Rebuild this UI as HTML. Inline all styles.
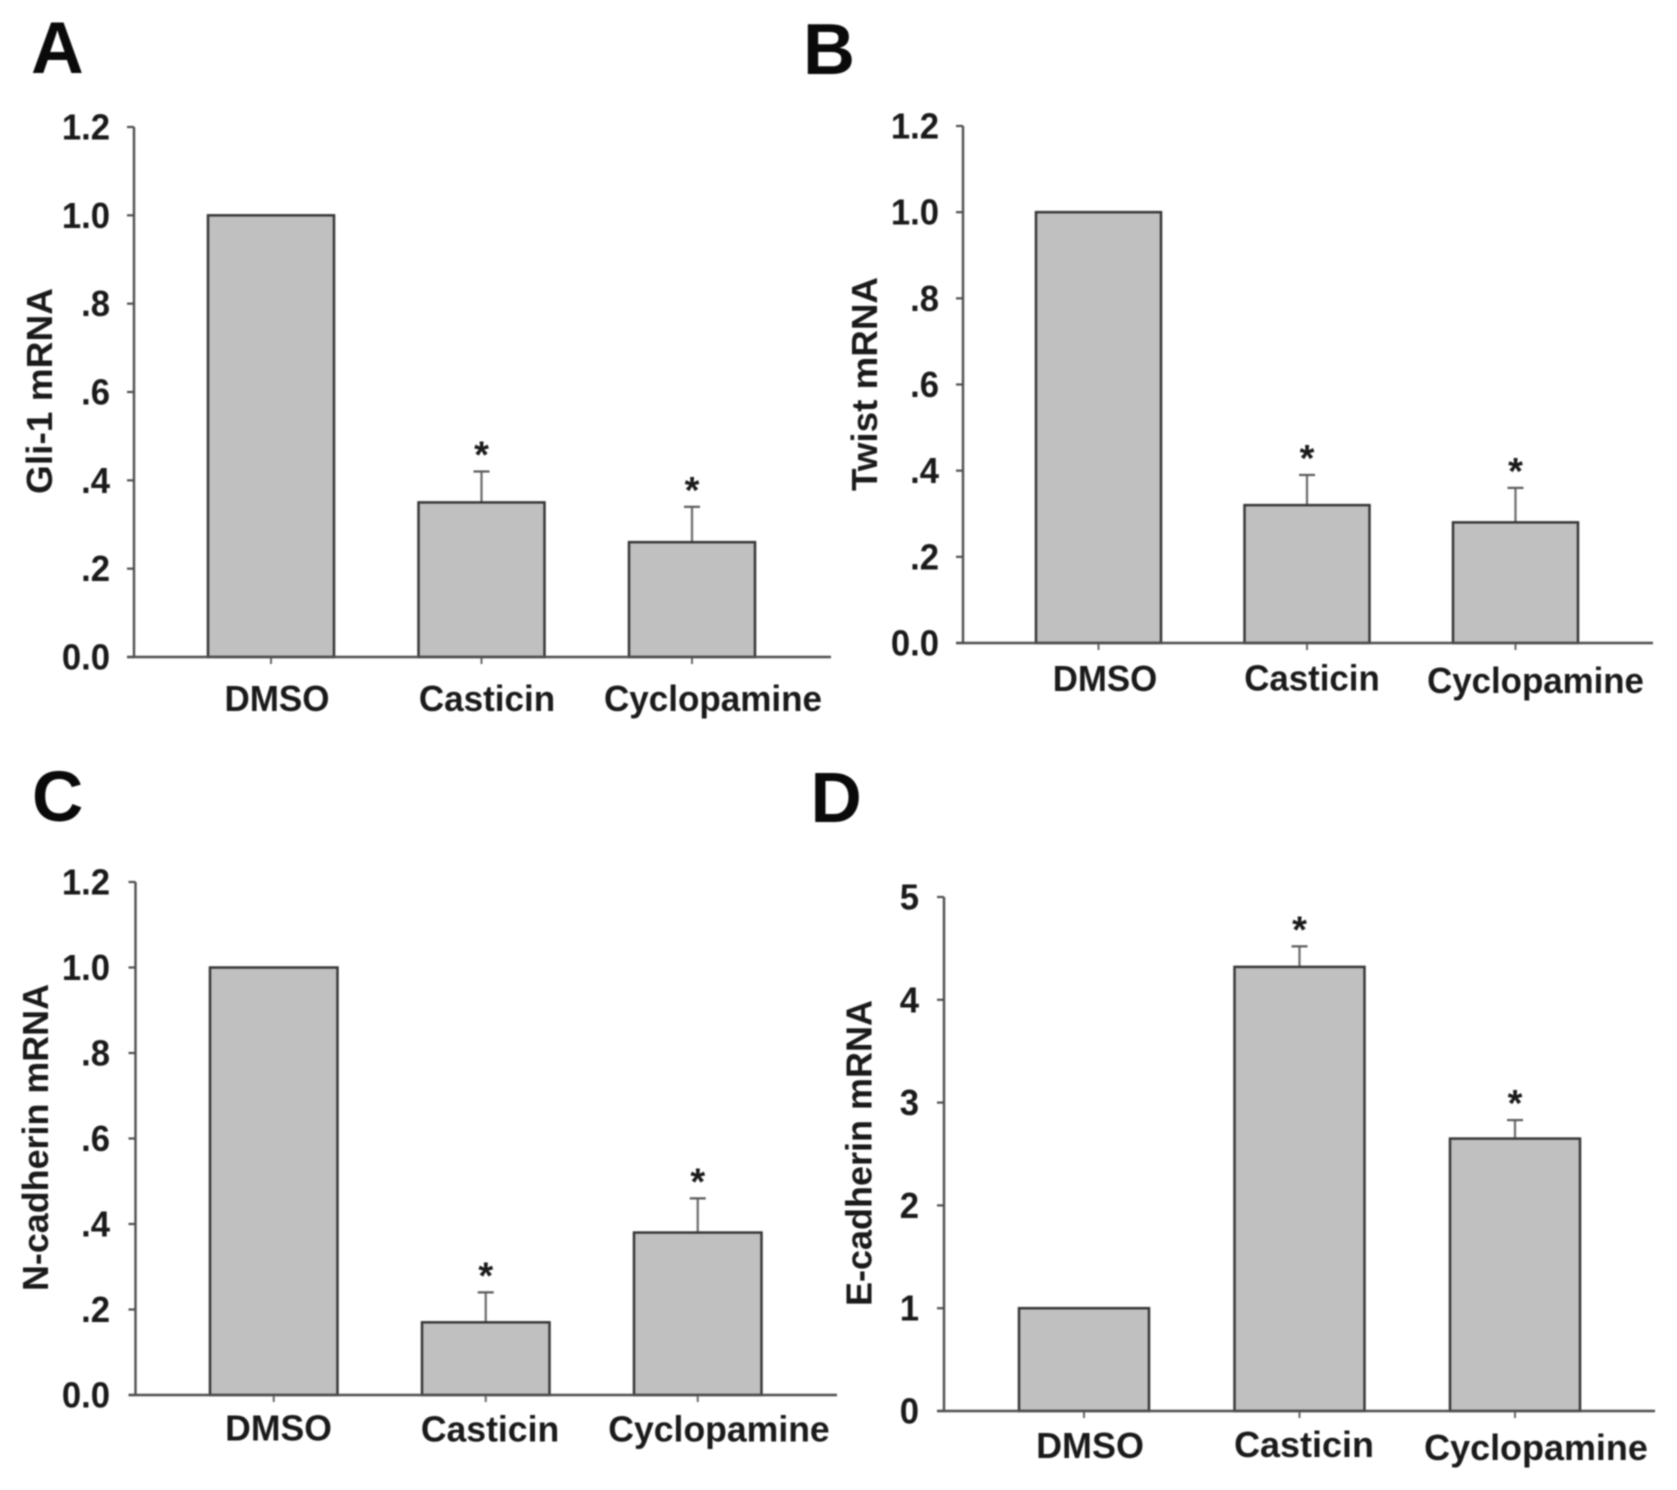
<!DOCTYPE html>
<html lang="en">
<head>
<meta charset="utf-8">
<title>mRNA expression bar charts</title>
<style>
html,body{margin:0;padding:0;background:#fff;width:1677px;height:1490px;overflow:hidden}
svg{display:block;filter:blur(0.8px)}
text{font-family:"Liberation Sans",Arial,sans-serif;font-weight:bold;fill:#1a1a1a}
</style>
</head>
<body>
<svg id="fig" xmlns="http://www.w3.org/2000/svg" width="1677" height="1490" viewBox="0 0 1677 1490"></svg>
<script>
const categories = ['DMSO', 'Casticin', 'Cyclopamine'];

const gli1Values = [1.0, 0.35, 0.26];
const gli1ErrorTops = [null, 0.42, 0.34];
const twistValues = [1.0, 0.32, 0.28];
const twistErrorTops = [null, 0.39, 0.36];
const ncadValues = [1.0, 0.17, 0.38];
const ncadErrorTops = [null, 0.24, 0.46];
const ecadValues = [1.0, 4.32, 2.65];
const ecadErrorTops = [null, 4.52, 2.83];

const ratioTicks = [0, 0.2, 0.4, 0.6, 0.8, 1.0, 1.2];
const ratioTickLabels = ['0.0', '.2', '.4', '.6', '.8', '1.0', '1.2'];
const foldTicks = [0, 1, 2, 3, 4, 5];
const foldTickLabels = ['0', '1', '2', '3', '4', '5'];

const panels = [
  {id:'a', letter:'A', lx:31, ly:73, lsize:73, title:'Gli-1 mRNA', tx:52, ty:391, tlen:206, values:gli1Values, errs:gli1ErrorTops, ticks:ratioTicks, tickLabels:ratioTickLabels,
   axisX:134, top:127, bottom:657, end:831, labelRight:110, barLeft:208, barStep:210.5, barW:126, catX:[277,487,713], catY:[711,711,711], catSx:0.96},
  {id:'b', letter:'B', lx:803, ly:74, lsize:72, title:'Twist mRNA', tx:877, ty:384, tlen:214, values:twistValues, errs:twistErrorTops, ticks:ratioTicks, tickLabels:ratioTickLabels,
   axisX:963, top:126, bottom:643, end:1653, labelRight:939, barLeft:1036, barStep:208.5, barW:125, catX:[1105,1312,1535.5], catY:[691,690.5,693], catSx:0.955},
  {id:'c', letter:'C', lx:32, ly:821, lsize:71, title:'N-cadherin mRNA', tx:48, ty:1137.5, tlen:307, values:ncadValues, errs:ncadErrorTops, ticks:ratioTicks, tickLabels:ratioTickLabels,
   axisX:135.5, top:882, bottom:1395, end:837, labelRight:110, barLeft:210, barStep:212, barW:127.5, catX:[278.5,490,719], catY:[1440.5,1441.5,1441.5], catSx:0.975},
  {id:'d', letter:'D', lx:810.5, ly:822, lsize:71, title:'E-cadherin mRNA', tx:871.5, ty:1153, tlen:306, values:ecadValues, errs:ecadErrorTops, ticks:foldTicks, tickLabels:foldTickLabels,
   axisX:944, top:897, bottom:1411, end:1655, labelRight:919, barLeft:1019, barStep:215.5, barW:130, catX:[1090,1304,1536], catY:[1458,1457,1460], catSx:0.985}
];

const svg = document.getElementById('fig');
const NS = 'http://www.w3.org/2000/svg';

function make(tag, attrs, parent) {
  const node = document.createElementNS(NS, tag);
  for (const k in attrs) node.setAttribute(k, attrs[k]);
  parent.appendChild(node);
  return node;
}

function drawPanel(p) {
  const g = make('g', {}, svg);
  
  

  const maxTick = p.ticks[p.ticks.length - 1];
  const yScale = v => p.bottom - (v / maxTick) * (p.bottom - p.top);
  const barX = i => p.barLeft + p.barStep * i;
  const barCenter = i => barX(i) + p.barW / 2;

  const letter = make('text', {x:p.lx, y:p.ly, 'font-size':p.lsize, style:'fill:#0a0a0a'}, g);
  letter.textContent = p.letter;
  
  

  const title = make('text', {transform:'translate(' + p.tx + ',' + p.ty + ') rotate(-90)', 'text-anchor':'middle', 'font-size':36.5, textLength:p.tlen, lengthAdjust:'spacingAndGlyphs'}, g);
  title.textContent = p.title;
  
  

  p.values.forEach((v, i) => {
    const y = yScale(v);
    if (p.errs[i] !== null) {
      const ey = yScale(p.errs[i]);
      const stem = make('line', {x1:barCenter(i), x2:barCenter(i), y1:y, y2:ey, stroke:'#6a6a6a', 'stroke-width':2.2}, g);
      
      
      const cap = make('line', {x1:barCenter(i) - 8, x2:barCenter(i) + 8, y1:ey, y2:ey, stroke:'#5a5a5a', 'stroke-width':2.2}, g);
      
      
      const star = make('text', {x:barCenter(i), y:ey - 4, 'text-anchor':'middle', 'font-size':38}, g);
      star.textContent = '*';
      
      
    }
    const bar = make('rect', {x:barX(i), y:y, width:p.barW, height:p.bottom - y, fill:'#c0c0c0', stroke:'#363636', 'stroke-width':2.5}, g);
    
    

    const tick = make('line', {x1:barCenter(i), x2:barCenter(i), y1:p.bottom, y2:p.bottom + 7, stroke:'#666', 'stroke-width':2}, g);
    
    

    const lab = make('text', {transform:'translate(' + p.catX[i] + ',' + p.catY[i] + ') scale(' + p.catSx + ',1)', 'text-anchor':'middle', 'font-size':36.5}, g);
    lab.textContent = categories[i];
    
    
  });

  const yAxis = make('line', {x1:p.axisX, x2:p.axisX, y1:p.top, y2:p.bottom, stroke:'#4e4e4e', 'stroke-width':2.4}, g);
  
  
  const xAxis = make('line', {x1:p.axisX - 7, x2:p.end, y1:p.bottom, y2:p.bottom, stroke:'#4e4e4e', 'stroke-width':2.4}, g);
  
  

  p.ticks.forEach((t, i) => {
    const y = yScale(t);
    const tick = make('line', {x1:p.axisX - 7, x2:p.axisX, y1:y, y2:y, stroke:'#4e4e4e', 'stroke-width':2.2}, g);
    
    
    const lab = make('text', {transform:'translate(' + p.labelRight + ',' + (y + 12.5) + ') scale(0.95,1)', 'text-anchor':'end', 'font-size':36.5}, g);
    lab.textContent = p.tickLabels[i];
    
    
  });
}

panels.forEach(drawPanel);
</script>
</body>
</html>
